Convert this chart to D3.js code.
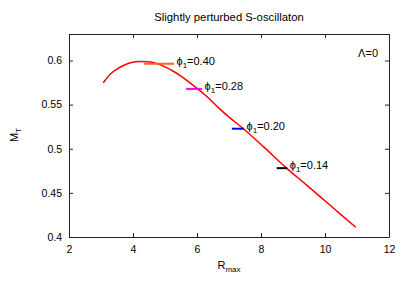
<!DOCTYPE html>
<html>
<head>
<meta charset="utf-8">
<script src="https://cdn.jsdelivr.net/npm/d3@7"></script>
<style>
  html, body { margin: 0; padding: 0; background: #fff; }
  svg text { font-family: "Liberation Sans", Arial, sans-serif; fill: #000; }
</style>
</head>
<body>
<div id="chart"></div>
<script>
// M_T vs R_max for a slightly perturbed S-oscillaton
const curveR = [3.07, 3.28, 3.50, 3.70, 3.95, 4.22, 4.48, 4.74, 5.00, 5.26, 5.52, 5.78, 6.04, 6.30, 6.70, 7.03, 7.45, 8.10, 8.80, 9.40, 9.90, 10.50, 10.96];
const curveM = [0.5747, 0.5841, 0.5902, 0.5943, 0.5976, 0.5989, 0.5986, 0.5966, 0.5928, 0.5878, 0.5817, 0.5747, 0.5673, 0.5594, 0.5455, 0.5349, 0.5227, 0.5015, 0.4781, 0.4596, 0.4440, 0.4254, 0.4110];

// the marked configurations: short horizontal bar + label
const markLabels = ["0.40", "0.28", "0.20", "0.14"];
const markM      = [0.5963, 0.5678, 0.5227, 0.4780];
const markR0     = [4.34, 5.66, 7.09, 8.49];
const markR1     = [5.28, 6.16, 7.47, 8.82];
const markColors = ["#ff6020", "#ff00ff", "#0000ff", "#000000"];

const xTicks = [2, 4, 6, 8, 10, 12];
const yTicks = [0.4, 0.45, 0.5, 0.55, 0.6];

const W = 407, H = 285;
const m = { top: 34, right: 18, bottom: 48, left: 69 };
const iw = W - m.left - m.right, ih = H - m.top - m.bottom;

const svg = d3.select("#chart").append("svg")
  .attr("width", W).attr("height", H).attr("viewBox", `0 0 ${W} ${H}`);

const x = d3.scaleLinear().domain([2, 12]).range([m.left, m.left + iw]);
const y = d3.scaleLinear().domain([0.4, 0.63]).range([m.top + ih, m.top]);

// gnuplot style frame with inward ticks on all four sides
const tk = 4;
const axisColor = "#222";
svg.append("g").attr("transform", `translate(0,${m.top + ih})`)
  .call(d3.axisBottom(x).tickValues(xTicks).tickSizeInner(-tk).tickSizeOuter(0).tickPadding(9).tickFormat(d3.format("d")))
  .call(g => g.selectAll("text").attr("font-size", 10.5).attr("font-family", "Liberation Sans, Arial, sans-serif"));
svg.append("g").attr("transform", `translate(0,${m.top})`)
  .call(d3.axisTop(x).tickValues(xTicks).tickSizeInner(-tk).tickSizeOuter(0).tickFormat(""));
svg.append("g").attr("transform", `translate(${m.left},0)`)
  .call(d3.axisLeft(y).tickValues(yTicks).tickSizeInner(-tk).tickSizeOuter(0).tickPadding(7).tickFormat(d => d3.format("")(+d.toFixed(2))))
  .call(g => g.selectAll("text").attr("font-size", 10.5).attr("font-family", "Liberation Sans, Arial, sans-serif"));
svg.append("g").attr("transform", `translate(${m.left + iw},0)`)
  .call(d3.axisRight(y).tickValues(yTicks).tickSizeInner(-tk).tickSizeOuter(0).tickFormat(""));
svg.selectAll(".domain").attr("stroke", axisColor);
svg.selectAll(".tick line").attr("stroke", axisColor);

// curve
const line = d3.line().x((d, i) => x(curveR[i])).y(d => y(d)).curve(d3.curveMonotoneX);
svg.append("path").datum(curveM)
  .attr("fill", "none").attr("stroke", "#ff0000").attr("stroke-width", 1.5)
  .attr("d", line);

// markers
const mk = svg.append("g");
markLabels.forEach((lab, i) => {
  mk.append("line")
    .attr("x1", x(markR0[i])).attr("x2", x(markR1[i]))
    .attr("y1", y(markM[i])).attr("y2", y(markM[i]))
    .attr("stroke", markColors[i]).attr("stroke-width", 2);
  const t = mk.append("text")
    .attr("x", x(markR1[i]) + 2.5).attr("y", y(markM[i]) + 1)
    .attr("font-size", 11);
  t.append("tspan").text("\u03d5");
  t.append("tspan").attr("font-size", 8).attr("dy", 3).text("1");
  t.append("tspan").attr("dy", -3).text("=" + lab);
});

// title and annotations
svg.append("text").attr("x", m.left + iw / 2).attr("y", 21)
  .attr("text-anchor", "middle").attr("font-size", 11.3)
  .text("Slightly perturbed S-oscillaton");
svg.append("text").attr("x", m.left + iw - 11).attr("y", 57)
  .attr("text-anchor", "end").attr("font-size", 11)
  .text("\u039b=0");

const xl = svg.append("text").attr("x", m.left + iw / 2).attr("y", 269)
  .attr("text-anchor", "middle").attr("font-size", 11);
xl.append("tspan").text("R");
xl.append("tspan").attr("font-size", 8).attr("dy", 3).text("max");

const yl = svg.append("text")
  .attr("transform", `translate(18,${y(0.5155)}) rotate(-90)`)
  .attr("text-anchor", "middle").attr("font-size", 11);
yl.append("tspan").text("M");
yl.append("tspan").attr("font-size", 8).attr("dy", 3).text("T");
</script>
</body>
</html>
